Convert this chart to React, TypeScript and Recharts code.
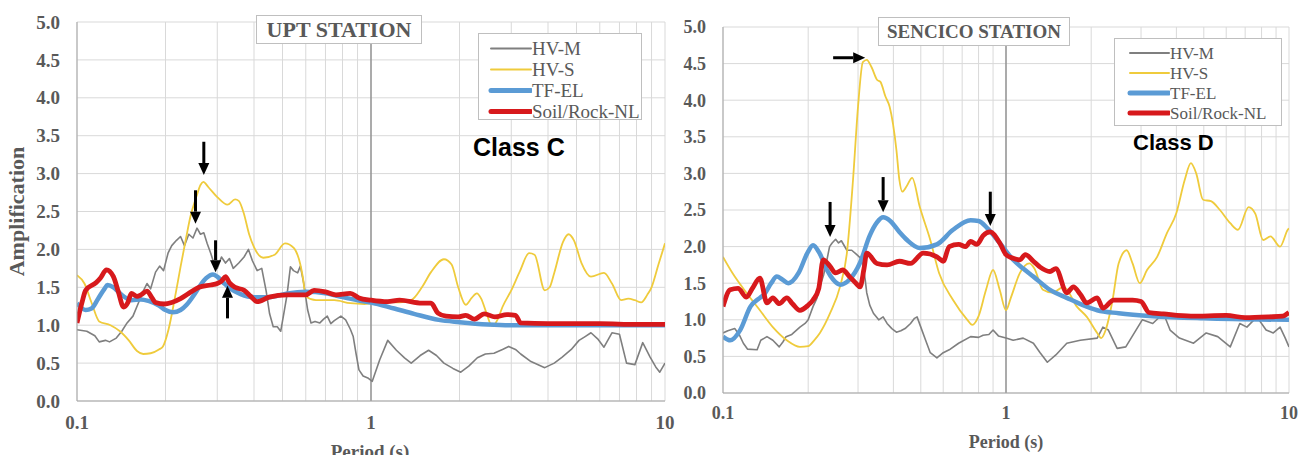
import {
  LineChart,
  Line,
  XAxis,
  YAxis,
  CartesianGrid,
  ReferenceLine,
} from "recharts";

// ---- UPT station (Class C) ----
const uptHvmT = [0.1, 0.108, 0.115, 0.119, 0.125, 0.129, 0.136, 0.142, 0.148, 0.155, 0.162, 0.168, 0.173, 0.178, 0.185, 0.191, 0.197, 0.204, 0.21, 0.218, 0.225, 0.232, 0.24, 0.248, 0.256, 0.263, 0.27, 0.277, 0.285, 0.293, 0.3, 0.31, 0.32, 0.33, 0.34, 0.355, 0.37, 0.383, 0.395, 0.41, 0.425, 0.44, 0.452, 0.465, 0.48, 0.493, 0.505, 0.518, 0.532, 0.545, 0.563, 0.575, 0.59, 0.609, 0.625, 0.645, 0.67, 0.69, 0.71, 0.73, 0.75, 0.79, 0.82, 0.85, 0.87, 0.89, 0.91, 0.94, 0.98, 1.01, 1.07, 1.14, 1.22, 1.3, 1.37, 1.47, 1.57, 1.67, 1.77, 1.9, 2.02, 2.15, 2.3, 2.45, 2.62, 2.8, 2.94, 3.1, 3.23, 3.5, 3.9, 4.2, 4.47, 4.8, 5.1, 5.35, 5.6, 5.9, 6.2, 6.6, 7.0, 7.4, 7.9, 8.4, 8.9, 9.3, 9.6, 10];
const uptHvmA = [0.94, 0.92, 0.86, 0.78, 0.8, 0.78, 0.83, 0.92, 1.03, 1.12, 1.3, 1.45, 1.55, 1.48, 1.7, 1.78, 1.72, 1.95, 2.05, 2.12, 2.17, 2.05, 2.2, 2.15, 2.28, 2.2, 2.22, 2.08, 1.95, 1.8, 1.75, 1.9, 1.82, 1.88, 1.75, 1.82, 1.9, 2.0, 1.85, 1.72, 1.75, 1.45, 1.15, 0.98, 0.98, 0.92, 1.15, 1.4, 1.77, 1.72, 1.69, 1.78, 1.56, 1.2, 1.03, 1.05, 1.03, 1.08, 1.12, 1.02, 1.06, 1.12, 1.07, 0.95, 0.85, 0.62, 0.41, 0.33, 0.3, 0.26, 0.54, 0.8, 0.67, 0.57, 0.5, 0.6, 0.67, 0.6, 0.5, 0.43, 0.38, 0.46, 0.57, 0.62, 0.63, 0.68, 0.72, 0.68, 0.62, 0.52, 0.44, 0.5, 0.58, 0.68, 0.8, 0.85, 0.9, 0.82, 0.71, 0.9, 0.88, 0.5, 0.48, 0.77, 0.58, 0.45, 0.38, 0.5];

const uptHvsT = [0.1, 0.106, 0.112, 0.119, 0.13, 0.14, 0.15, 0.16, 0.168, 0.178, 0.19, 0.196, 0.205, 0.215, 0.225, 0.235, 0.243, 0.255, 0.263, 0.269, 0.28, 0.3, 0.325, 0.345, 0.355, 0.369, 0.385, 0.4, 0.43, 0.47, 0.51, 0.546, 0.575, 0.586, 0.6, 0.65, 0.75, 0.85, 0.95, 1.1, 1.25, 1.37, 1.49, 1.6, 1.77, 1.88, 1.98, 2.1, 2.2, 2.29, 2.37, 2.47, 2.58, 2.7, 2.8, 3.0, 3.2, 3.45, 3.6, 3.9, 4.05, 4.2, 4.5, 4.7, 4.9, 5.2, 5.6, 6.2, 6.6, 7.1, 7.5, 7.9, 8.3, 8.7, 9.0, 9.5, 10];
const uptHvsA = [1.66, 1.55, 1.3, 1.05, 1.0, 0.92, 0.8, 0.66, 0.62, 0.63, 0.68, 0.72, 0.95, 1.35, 1.77, 2.15, 2.43, 2.7, 2.85, 2.89, 2.82, 2.69, 2.59, 2.66, 2.64, 2.48, 2.2, 2.03, 1.89, 1.93, 2.08, 2.02, 1.8, 1.64, 1.38, 1.33, 1.33, 1.29, 1.28, 1.31, 1.3, 1.33, 1.5, 1.7, 1.87, 1.8, 1.5, 1.27, 1.36, 1.42, 1.35, 1.16, 0.99, 1.08, 1.24, 1.46, 1.7, 1.95, 1.93, 1.46, 1.5, 1.69, 2.1, 2.2, 2.12, 1.82, 1.64, 1.69, 1.55, 1.33, 1.35, 1.33, 1.3, 1.4, 1.5, 1.8, 2.08];

const uptTfT = [0.1, 0.107, 0.112, 0.118, 0.124, 0.127, 0.133, 0.14, 0.153, 0.165, 0.175, 0.19, 0.2, 0.212, 0.225, 0.236, 0.25, 0.262, 0.275, 0.29, 0.3, 0.315, 0.33, 0.36, 0.4, 0.45, 0.52, 0.6, 0.7, 0.8, 0.9, 1.0, 1.2, 1.4, 1.7, 2.0, 2.5, 3.0, 5, 10];
const uptTfA = [1.29, 1.2, 1.22, 1.35, 1.48, 1.53, 1.5, 1.42, 1.33, 1.34, 1.32, 1.26, 1.2, 1.17, 1.2, 1.27, 1.4, 1.52, 1.62, 1.67, 1.64, 1.56, 1.49, 1.41, 1.37, 1.37, 1.42, 1.44, 1.42, 1.37, 1.33, 1.3, 1.22, 1.15, 1.07, 1.04, 1.01, 1.0, 1.0, 1.0];

const uptNlT = [0.1, 0.104, 0.107, 0.116, 0.12, 0.126, 0.133, 0.138, 0.144, 0.149, 0.153, 0.16, 0.165, 0.173, 0.18, 0.185, 0.198, 0.21, 0.225, 0.24, 0.26, 0.285, 0.3, 0.31, 0.32, 0.33, 0.345, 0.37, 0.39, 0.41, 0.45, 0.52, 0.6, 0.64, 0.7, 0.76, 0.85, 0.91, 1.0, 1.14, 1.25, 1.49, 1.6, 1.69, 1.8, 1.98, 2.1, 2.25, 2.43, 2.64, 2.9, 3.1, 3.23, 4, 6, 8, 10];
const uptNlA = [1.03, 1.3, 1.46, 1.56, 1.62, 1.73, 1.64, 1.45, 1.24, 1.3, 1.42, 1.38, 1.4, 1.45, 1.36, 1.3, 1.28, 1.3, 1.35, 1.42, 1.5, 1.53, 1.55, 1.58, 1.64, 1.56, 1.5, 1.46, 1.38, 1.31, 1.37, 1.4, 1.4, 1.46, 1.44, 1.4, 1.42, 1.36, 1.33, 1.31, 1.33, 1.29, 1.29, 1.16, 1.12, 1.11, 1.13, 1.08, 1.15, 1.11, 1.14, 1.13, 1.03, 1.02, 1.02, 1.01, 1.01];

// ---- SENCICO station (Class D) ----
const senHvmT = [0.1, 0.104, 0.11, 0.114, 0.118, 0.122, 0.132, 0.136, 0.143, 0.15, 0.158, 0.163, 0.167, 0.175, 0.187, 0.195, 0.2, 0.208, 0.215, 0.22, 0.227, 0.233, 0.238, 0.243, 0.25, 0.256, 0.262, 0.274, 0.285, 0.295, 0.305, 0.312, 0.318, 0.322, 0.33, 0.34, 0.355, 0.368, 0.38, 0.395, 0.41, 0.425, 0.44, 0.46, 0.475, 0.485, 0.5, 0.52, 0.54, 0.57, 0.6, 0.63, 0.68, 0.75, 0.8, 0.83, 0.87, 0.9, 0.94, 1.0, 1.06, 1.15, 1.25, 1.32, 1.4, 1.5, 1.64, 1.83, 2.1, 2.2, 2.3, 2.47, 2.65, 2.88, 3.03, 3.3, 3.6, 3.8, 4.1, 4.6, 5.1, 5.6, 6.2, 6.7, 7.1, 7.7, 8.3, 8.8, 9.3, 9.7, 10];
const senHvmA = [0.82, 0.85, 0.88, 0.8, 0.68, 0.6, 0.59, 0.72, 0.77, 0.72, 0.63, 0.7, 0.77, 0.8, 0.9, 0.95, 1.0, 1.18, 1.3, 1.45, 1.62, 1.82, 2.0, 2.05, 2.1, 2.05, 2.08, 1.95, 1.95, 1.9, 1.85, 1.77, 1.55, 1.37, 1.2, 1.09, 1.0, 1.04, 0.95, 0.88, 0.83, 0.85, 0.88, 0.95, 1.02, 1.04, 0.9, 0.72, 0.55, 0.48, 0.55, 0.59, 0.68, 0.77, 0.76, 0.79, 0.8, 0.86, 0.78, 0.75, 0.72, 0.75, 0.68, 0.55, 0.42, 0.52, 0.68, 0.72, 0.75, 0.9, 0.86, 0.61, 0.63, 0.86, 1.0, 0.95, 1.09, 0.86, 0.75, 0.68, 0.82, 0.77, 0.63, 0.95, 0.9, 1.04, 0.86, 0.82, 0.9, 0.75, 0.63];

const senHvsT = [0.1, 0.108, 0.121, 0.135, 0.15, 0.168, 0.187, 0.2, 0.21, 0.22, 0.239, 0.259, 0.274, 0.288, 0.3, 0.312, 0.322, 0.335, 0.35, 0.36, 0.375, 0.388, 0.41, 0.42, 0.43, 0.445, 0.466, 0.496, 0.54, 0.58, 0.65, 0.73, 0.76, 0.8, 0.85, 0.9, 0.95, 1.0, 1.04, 1.12, 1.21, 1.26, 1.35, 1.46, 1.6, 1.78, 1.93, 2.1, 2.17, 2.25, 2.38, 2.5, 2.67, 2.8, 2.97, 3.15, 3.42, 3.7, 4.0, 4.28, 4.5, 4.7, 4.97, 5.3, 5.7, 6.2, 6.6, 7.2, 7.6, 8.1, 8.6, 9.3, 9.9, 10];
const senHvsA = [1.86, 1.64, 1.37, 1.13, 0.9, 0.72, 0.63, 0.64, 0.72, 0.82, 1.09, 1.45, 1.91, 2.91, 3.91, 4.52, 4.55, 4.45, 4.28, 4.25, 4.05, 3.91, 3.32, 2.91, 2.75, 2.82, 2.94, 2.54, 2.09, 1.64, 1.27, 1.0, 0.93, 1.05, 1.41, 1.68, 1.41, 1.13, 1.3, 1.64, 1.77, 1.7, 1.41, 1.37, 1.45, 1.18, 1.04, 0.82, 0.75, 0.86, 1.27, 1.77, 1.95, 1.77, 1.5, 1.68, 1.86, 2.18, 2.46, 2.91, 3.14, 3.0, 2.64, 2.62, 2.5, 2.32, 2.23, 2.54, 2.45, 2.09, 2.14, 2.0, 2.23, 2.25];

const senTfT = [0.1, 0.106, 0.115, 0.125, 0.135, 0.14, 0.148, 0.155, 0.162, 0.17, 0.185, 0.198, 0.208, 0.22, 0.233, 0.245, 0.26, 0.28, 0.305, 0.33, 0.35, 0.368, 0.39, 0.42, 0.447, 0.496, 0.57, 0.65, 0.75, 0.8, 0.86, 0.95, 1.06, 1.15, 1.25, 1.43, 1.64, 1.87, 2.1, 2.5, 3.3, 5, 10];
const senTfA = [0.77, 0.72, 0.86, 1.18, 1.3, 1.35, 1.5, 1.59, 1.55, 1.5, 1.64, 1.9, 2.02, 1.9, 1.68, 1.55, 1.48, 1.55, 1.78, 2.15, 2.33, 2.4, 2.35, 2.2, 2.09, 1.98, 2.03, 2.23, 2.36, 2.35, 2.25, 2.05, 1.82, 1.7, 1.59, 1.41, 1.3, 1.2, 1.13, 1.09, 1.05, 1.02, 1.0];

const senNlT = [0.1, 0.106, 0.113, 0.121, 0.127, 0.135, 0.143, 0.15, 0.158, 0.168, 0.176, 0.187, 0.2, 0.208, 0.218, 0.226, 0.239, 0.25, 0.265, 0.28, 0.295, 0.305, 0.315, 0.322, 0.35, 0.38, 0.42, 0.46, 0.51, 0.57, 0.6, 0.63, 0.68, 0.72, 0.75, 0.79, 0.83, 0.88, 0.95, 1.0, 1.06, 1.12, 1.17, 1.25, 1.32, 1.43, 1.5, 1.64, 1.73, 1.83, 1.93, 2.1, 2.2, 2.4, 2.8, 3.0, 3.2, 3.6, 4.5, 6, 7, 8.5, 9.5, 10];
const senNlA = [1.18, 1.41, 1.43, 1.31, 1.43, 1.57, 1.23, 1.3, 1.22, 1.3, 1.22, 1.13, 1.2, 1.27, 1.43, 1.82, 1.73, 1.64, 1.68, 1.59, 1.5, 1.45, 1.7, 1.91, 1.77, 1.75, 1.8, 1.77, 1.91, 1.86, 1.8, 2.0, 2.03, 2.0, 2.07, 2.03, 2.15, 2.2, 2.05, 1.89, 1.84, 1.82, 1.89, 1.8, 1.72, 1.66, 1.7, 1.37, 1.45, 1.35, 1.23, 1.3, 1.16, 1.27, 1.27, 1.25, 1.1, 1.08, 1.05, 1.06, 1.03, 1.04, 1.05, 1.1];

// arrows: [period, amplification] tail -> head
const uptArrows = [
  [[0.27, 3.42], [0.27, 2.98]],
  [[0.253, 2.78], [0.253, 2.34]],
  [[0.296, 2.12], [0.296, 1.7]],
  [[0.325, 1.09], [0.325, 1.52]],
];
const senArrows = [
  [[0.245, 4.58], [0.318, 4.58]],
  [[0.239, 2.61], [0.239, 2.13]],
  [[0.368, 2.95], [0.368, 2.47]],
  [[0.88, 2.75], [0.88, 2.28]],
];

const periodTicks = [0.1, 0.2, 0.3, 0.4, 0.5, 0.6, 0.7, 0.8, 0.9, 1, 2, 3, 4, 5, 6, 7, 8, 9, 10];
const ampTicks = [0, 0.5, 1, 1.5, 2, 2.5, 3, 3.5, 4, 4.5, 5];
const seriesNames = ["HV-M", "HV-S", "TF-EL", "Soil/Rock-NL"];

const SERIF = '"Liberation Serif", "Times New Roman", serif';
const SANS = '"Liberation Sans", Arial, sans-serif';
const TEXT = "#595959";
const COLORS = ["#7f7f7f", "#efcb3c", "#5b9bd5", "#d7191c"];
const WIDTHS = [1.6, 1.8, 4.5, 4.8];

const toPoints = (t: number[], a: number[]) => t.map((x, i) => ({ t: x, a: a[i] }));

const arrowShape = (props: any) => {
  const { x1, y1, x2, y2 } = props;
  const dx = x2 - x1;
  const dy = y2 - y1;
  const len = Math.hypot(dx, dy) || 1;
  const ux = dx / len;
  const uy = dy / len;
  const head = 12;
  const half = 5.5;
  const bx = x2 - ux * head;
  const by = y2 - uy * head;
  return (
    <g>
      <line x1={x1} y1={y1} x2={bx} y2={by} stroke="#000" strokeWidth={3} />
      <polygon
        points={`${x2},${y2} ${bx - uy * half},${by + ux * half} ${bx + uy * half},${by - ux * half}`}
        fill="#000"
      />
    </g>
  );
};

// custom tick renderers so the font size is applied as-is
const xTick = (fs: number) => (props: any) => {
  const v = props.payload.value;
  const txt = v === 0.1 || v === 1 || v === 10 ? String(v) : "";
  return (
    <text x={props.x} y={props.y} dy="0.75em" textAnchor="middle" fontFamily={SERIF} fontSize={fs} fontWeight={700} fill={TEXT}>
      {txt}
    </text>
  );
};
const yTick = (fs: number) => (props: any) => (
  <text x={props.x} y={props.y} dy="0.35em" textAnchor="end" fontFamily={SERIF} fontSize={fs} fontWeight={700} fill={TEXT}>
    {Number(props.payload.value).toFixed(1)}
  </text>
);

interface PanelProps {
  width: number;
  margin: { top: number; right: number; left: number; bottom: number };
  yAxisWidth: number;
  xAxisHeight: number;
  fontSize: number;
  xTickMargin: number;
  showYLabel: boolean;
  series: { t: number; a: number }[][];
  arrows: number[][][];
}

function Panel(p: PanelProps) {
  return (
    <LineChart width={p.width} height={463} margin={p.margin}>
      <CartesianGrid stroke="#d9d9d9" strokeWidth={1} />
      <XAxis
        dataKey="t"
        type="number"
        scale="log"
        domain={[0.1, 10]}
        ticks={periodTicks}
        allowDataOverflow
        tick={xTick(p.fontSize)}
        tickLine={false}
        tickMargin={p.xTickMargin}
        interval={0}
        height={p.xAxisHeight}
        axisLine={{ stroke: "#a6a6a6" }}
      />
      <YAxis
        type="number"
        domain={[0, 5]}
        ticks={ampTicks}
        interval={0}
        tick={yTick(p.fontSize)}
        tickLine={false}
        tickMargin={11}
        width={p.yAxisWidth}
        axisLine={{ stroke: "#a6a6a6" }}
        label={
          p.showYLabel
            ? {
                value: "Amplification",
                angle: -90,
                position: "insideLeft",
                offset: 16,
                style: { fontFamily: SERIF, fontSize: 22, fontWeight: 700, fill: TEXT, textAnchor: "middle" },
              }
            : undefined
        }
      />
      <ReferenceLine x={1} stroke="#808080" strokeWidth={1.2} />
      {p.series.map((d, i) => (
        <Line
          key={seriesNames[i]}
          data={d}
          dataKey="a"
          name={seriesNames[i]}
          type={i === 0 ? "linear" : "monotone"}
          stroke={COLORS[i]}
          strokeWidth={WIDTHS[i]}
          strokeLinejoin="round"
          dot={false}
          isAnimationActive={false}
        />
      ))}
      {p.arrows.map((ar, i) => (
        <ReferenceLine
          key={"arrow" + i}
          segment={[
            { x: ar[0][0], y: ar[0][1] },
            { x: ar[1][0], y: ar[1][1] },
          ]}
          shape={arrowShape}
        />
      ))}
    </LineChart>
  );
}

function LegendBox({ left, top, width, height, rowH, padTop, lineX0, lineX1, fontSize }: any) {
  return (
    <div
      style={{
        position: "absolute",
        left,
        top,
        width,
        height,
        boxSizing: "border-box",
        border: "1px solid #bfbfbf",
        background: "#fff",
      }}
    >
      {seriesNames.map((n, i) => (
        <div
          key={n}
          style={{
            position: "absolute",
            top: padTop + i * rowH - rowH / 2,
            left: 0,
            height: rowH,
            display: "flex",
            alignItems: "center",
          }}
        >
          <svg width={lineX1} height={rowH}>
            <line
              x1={lineX0}
              x2={lineX1 - 1}
              y1={rowH / 2}
              y2={rowH / 2}
              stroke={COLORS[i]}
              strokeWidth={i < 2 ? 2 : 5}
              strokeLinecap="round"
            />
          </svg>
          <span style={{ fontFamily: SERIF, fontSize, color: TEXT, whiteSpace: "nowrap", lineHeight: 1 }}>{n}</span>
        </div>
      ))}
    </div>
  );
}

const axisTitle = {
  position: "absolute" as const,
  fontFamily: SERIF,
  fontWeight: 700,
  color: TEXT,
  whiteSpace: "nowrap" as const,
  lineHeight: 1,
  transform: "translateX(-50%)",
};

export default function App() {
  const uptSeries = [
    toPoints(uptHvmT, uptHvmA),
    toPoints(uptHvsT, uptHvsA),
    toPoints(uptTfT, uptTfA),
    toPoints(uptNlT, uptNlA),
  ];
  const senSeries = [
    toPoints(senHvmT, senHvmA),
    toPoints(senHvsT, senHvsA),
    toPoints(senTfT, senTfA),
    toPoints(senNlT, senNlA),
  ];

  return (
    <div style={{ position: "relative", width: 1306, height: 463, margin: -8, background: "#fff", overflow: "hidden" }}>
      <div style={{ position: "absolute", left: 0, top: 0 }}>
        <Panel
          width={682}
          margin={{ top: 22, right: 17, left: 0, bottom: 0 }}
          yAxisWidth={77}
          xAxisHeight={62}
          fontSize={19}
          xTickMargin={8}
          showYLabel
          series={uptSeries}
          arrows={uptArrows}
        />
      </div>
      <div style={{ position: "absolute", left: 680, top: 0 }}>
        <Panel
          width={626}
          margin={{ top: 27, right: 17, left: 0, bottom: 0 }}
          yAxisWidth={43}
          xAxisHeight={70}
          fontSize={18}
          xTickMargin={6}
          showYLabel={false}
          series={senSeries}
          arrows={senArrows}
        />
      </div>

      <div style={{ ...axisTitle, left: 370, top: 442, fontSize: 19 }}>Period (s)</div>
      <div style={{ ...axisTitle, left: 1006, top: 433, fontSize: 18 }}>Period (s)</div>

      {/* station titles */}
      <div
        style={{
          position: "absolute",
          left: 256,
          top: 15,
          width: 166,
          height: 29,
          boxSizing: "border-box",
          border: "1px solid #bfbfbf",
          background: "#fff",
          fontFamily: SERIF,
          fontWeight: 700,
          fontSize: 22,
          color: TEXT,
          display: "flex",
          alignItems: "center",
          justifyContent: "center",
          whiteSpace: "nowrap",
        }}
      >
        UPT STATION
      </div>
      <div
        style={{
          position: "absolute",
          left: 878,
          top: 17,
          width: 192,
          height: 29,
          boxSizing: "border-box",
          border: "1px solid #bfbfbf",
          background: "#fff",
          fontFamily: SERIF,
          fontWeight: 700,
          fontSize: 19,
          color: TEXT,
          display: "flex",
          alignItems: "center",
          justifyContent: "center",
          whiteSpace: "nowrap",
        }}
      >
        SENCICO STATION
      </div>

      <LegendBox left={478} top={33} width={164} height={87} rowH={21} padTop={14} lineX0={12} lineX1={53} fontSize={19} />
      <LegendBox left={1114} top={38} width={168} height={88} rowH={20} padTop={14} lineX0={15} lineX1={55} fontSize={17} />

      <div style={{ position: "absolute", left: 473, top: 133, fontFamily: SANS, fontWeight: 700, fontSize: 25, color: "#000" }}>
        Class C
      </div>
      <div style={{ position: "absolute", left: 1133, top: 130, fontFamily: SANS, fontWeight: 700, fontSize: 22, color: "#000" }}>
        Class D
      </div>
    </div>
  );
}
